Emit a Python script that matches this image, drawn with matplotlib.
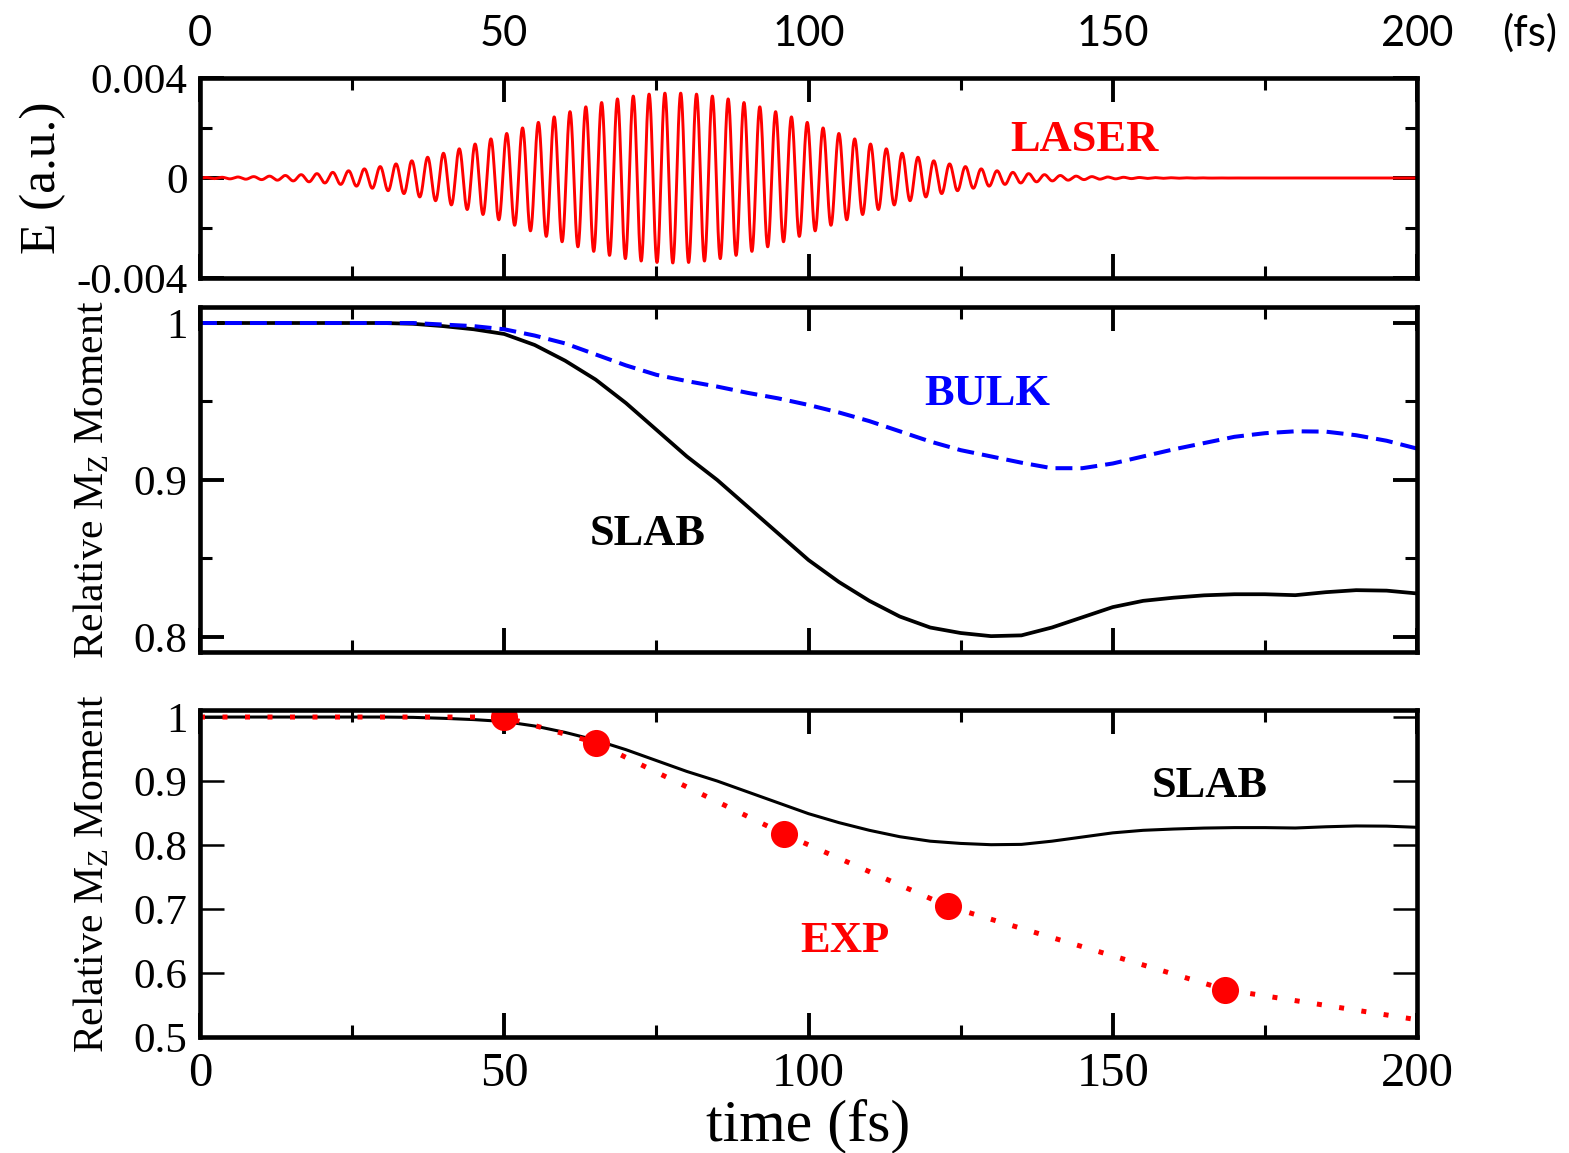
import matplotlib
matplotlib.use("Agg")
import matplotlib.pyplot as plt
import numpy as np
from matplotlib.ticker import MultipleLocator, FixedLocator, FixedFormatter

plt.rcParams["font.family"] = ["Liberation Serif", "DejaVu Serif"]
plt.rcParams["mathtext.fontset"] = "custom"
plt.rcParams["mathtext.rm"] = "Liberation Serif"
plt.rcParams["mathtext.it"] = "Liberation Serif:italic"
plt.rcParams["mathtext.bf"] = "Liberation Serif:bold"

# ---------------- data ----------------
# Laser pulse parameters (field in atomic units, time in fs)
LASER_AMPLITUDE = 0.0034
LASER_CENTER_FS = 77.7
LASER_SIGMA_FS = 24.0
LASER_PERIOD_FS = 2.6
LASER_CREST_FS = 76.4

# Relative Mz moment of the slab calculation
SLAB_T = [0, 10, 20, 30, 35, 40, 45, 50, 55, 60, 65, 70, 75, 80, 85, 90, 95,
          100, 105, 110, 115, 120, 125, 130, 135, 140, 145, 150, 155, 160, 165,
          170, 175, 180, 185, 190, 195, 200]
SLAB_MZ = [1.0, 1.0, 1.0, 1.0, 0.9995, 0.998, 0.996, 0.993, 0.986, 0.976,
           0.964, 0.949, 0.932, 0.915, 0.900, 0.883, 0.866, 0.849, 0.835,
           0.823, 0.813, 0.806, 0.8025, 0.8005, 0.801, 0.806, 0.8125, 0.819,
           0.823, 0.825, 0.8265, 0.8272, 0.8272, 0.8266, 0.8285, 0.8298,
           0.8295, 0.8277]

# Relative Mz moment of the bulk calculation
BULK_T = [0, 10, 20, 30, 35, 40, 45, 50, 55, 60, 65, 70, 75, 80, 85, 90, 95,
          100, 105, 110, 115, 120, 125, 130, 135, 140, 145, 150, 155, 160, 165,
          170, 175, 180, 185, 190, 195, 200]
BULK_MZ = [1.0, 1.0, 1.0, 1.0, 1.0, 0.999, 0.998, 0.996, 0.992, 0.987, 0.980,
           0.973, 0.967, 0.963, 0.9595, 0.9555, 0.952, 0.9478, 0.943, 0.9375,
           0.931, 0.9245, 0.919, 0.915, 0.911, 0.9075, 0.9075, 0.9105, 0.915,
           0.9195, 0.9235, 0.9275, 0.9298, 0.931, 0.9308, 0.9285, 0.925, 0.920]

# Experimental points and the guide line through them
EXP_T = [50, 65, 96, 123, 168.5]
EXP_MZ = [1.0, 0.96, 0.817, 0.704, 0.574]
EXP_LINE_T = [0, 50, 65, 96, 123, 168.5, 200]
EXP_LINE_MZ = [1.0, 1.0, 0.96, 0.817, 0.704, 0.574, 0.527]

TIME_TICKS = [0, 50, 100, 150, 200]
TIME_LABELS = ["0", "50", "100", "150", "200"]
E_TICKS = [-0.004, 0, 0.004]
E_LABELS = ["-0.004", "0", "0.004"]
MID_TICKS = [0.8, 0.9, 1.0]
MID_LABELS = ["0.8", "0.9", "1"]
LOW_TICKS = [0.5, 0.6, 0.7, 0.8, 0.9, 1.0]
LOW_LABELS = ["0.5", "0.6", "0.7", "0.8", "0.9", "1"]

# ---------------- figure ----------------
W_PX, H_PX = 1569, 1153
fig = plt.figure(figsize=(W_PX / 100, H_PX / 100), dpi=100)

left = 200 / W_PX
width = 1217 / W_PX
ax1 = fig.add_axes([left, 1 - 278 / H_PX, width, 200 / H_PX])
ax2 = fig.add_axes([left, 1 - 652 / H_PX, width, 345 / H_PX])
ax3 = fig.add_axes([left, 1 - 1037 / H_PX, width, 327 / H_PX])

TICK_FS = 31


def frame(ax):
    for sp in ax.spines.values():
        sp.set_linewidth(3.3)
    ax.set_xlim(0, 200)
    ax.xaxis.set_major_locator(FixedLocator(TIME_TICKS))
    ax.xaxis.set_minor_locator(MultipleLocator(25))
    ax.tick_params(which="both", direction="in", top=True, right=True)
    ax.tick_params(which="major", length=17, width=2.8, labelsize=TICK_FS, pad=9)
    ax.tick_params(which="minor", length=8.5, width=2.2)


# --- laser field ---
t = np.linspace(0, 200, 40001)
envelope = LASER_AMPLITUDE * np.exp(-((t - LASER_CENTER_FS) ** 2) / (2 * LASER_SIGMA_FS ** 2))
field = envelope * np.cos(2 * np.pi * (t - LASER_CREST_FS) / LASER_PERIOD_FS)
ax1.plot(t, field, color="#ff0000", lw=2.1)
frame(ax1)
ax1.set_ylim(-0.004, 0.004)
ax1.yaxis.set_major_locator(FixedLocator(E_TICKS))
ax1.yaxis.set_major_formatter(FixedFormatter(E_LABELS))
ax1.yaxis.set_minor_locator(FixedLocator([-0.002, 0.002]))
ax1.tick_params(axis="x", labelbottom=False)
ax1.text(133.1, 0.00108, "LASER", color="#ff0000", fontsize=32,
         fontweight="bold", ha="left", va="baseline")
ax1.text(-0.119, 0.5, "E (a.u.)", transform=ax1.transAxes, rotation=90,
         rotation_mode="anchor", ha="center", va="baseline", fontsize=37)

# time labels along the top
sec = ax1.secondary_xaxis("top")
sec.xaxis.set_major_locator(FixedLocator(TIME_TICKS))
sec.xaxis.set_major_formatter(FixedFormatter(TIME_LABELS))
sec.tick_params(length=0, pad=18, labelsize=30, labelfontfamily="Lato")
sec.spines["top"].set_visible(False)
fig.text(1530 / W_PX, 1 - 33 / H_PX, "(fs)", fontsize=30, family="Lato",
         ha="center", va="center")

# --- slab vs bulk ---
ax2.plot(SLAB_T, SLAB_MZ, color="black", lw=2.7)
ax2.plot(BULK_T, BULK_MZ, color="#0000ff", lw=2.9, dashes=(4.2, 2.0))
frame(ax2)
ax2.set_ylim(0.7904, 1.0102)
ax2.yaxis.set_major_locator(FixedLocator(MID_TICKS))
ax2.yaxis.set_major_formatter(FixedFormatter(MID_LABELS))
ax2.yaxis.set_minor_locator(FixedLocator([0.85, 0.95]))
ax2.tick_params(axis="x", labelbottom=False)
ax2.text(119.1, 0.9478, "BULK", color="#0000ff", fontsize=32,
         fontweight="bold", ha="left", va="baseline")
ax2.text(64.1, 0.8586, "SLAB", color="black", fontsize=32,
         fontweight="bold", ha="left", va="baseline")
ax2.text(-0.0797, 0.5, r"Relative M$_\mathrm{Z}$ Moment", transform=ax2.transAxes,
         rotation=90, rotation_mode="anchor", ha="center", va="baseline",
         fontsize=30)

# --- slab vs experiment ---
ax3.plot(SLAB_T, SLAB_MZ, color="black", lw=2.2)
ax3.plot(EXP_LINE_T, EXP_LINE_MZ, color="#ff0000", lw=3.6, dashes=(1, 3.5))
ax3.plot(EXP_T, EXP_MZ, "o", color="#ff0000", ms=19.5, mec="none")
frame(ax3)
ax3.set_ylim(0.5, 1.011)
ax3.yaxis.set_major_locator(FixedLocator(LOW_TICKS))
ax3.yaxis.set_major_formatter(FixedFormatter(LOW_LABELS))
ax3.xaxis.set_major_formatter(FixedFormatter(TIME_LABELS))
ax3.tick_params(axis="y", which="major", width=1.8)
ax3.tick_params(axis="x", labelsize=35, pad=11)
ax3.text(156.4, 0.875, "SLAB", color="black", fontsize=32,
         fontweight="bold", ha="left", va="baseline")
ax3.text(98.6, 0.633, "EXP", color="#ff0000", fontsize=32,
         fontweight="bold", ha="left", va="baseline")
ax3.text(-0.0797, 0.5, r"Relative M$_\mathrm{Z}$ Moment", transform=ax3.transAxes,
         rotation=90, rotation_mode="anchor", ha="center", va="baseline",
         fontsize=30)
ax3.set_xlabel("time (fs)", fontsize=43, labelpad=2)

fig.savefig("out.png", dpi=100)
